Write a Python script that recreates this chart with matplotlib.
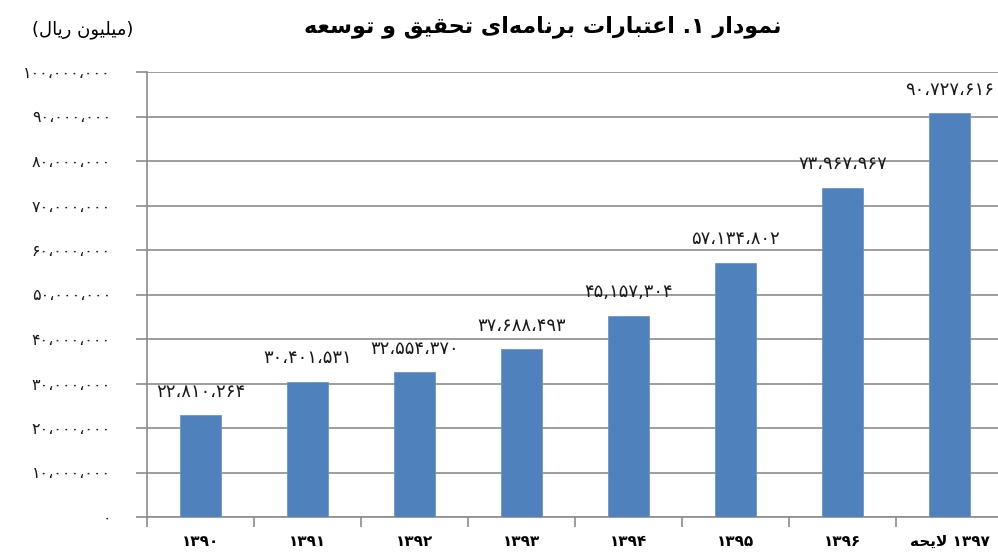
import re
import numpy as np
import matplotlib.pyplot as plt

# Chart data
categories = ['۱۳۹۰', '۱۳۹۱', '۱۳۹۲', '۱۳۹۳', '۱۳۹۴', '۱۳۹۵', '۱۳۹۶',
              'لایحه ۱۳۹۷']
values = [22810264, 30401531, 32554370, 37688493, 45157304, 57134802,
          73967967, 90727616]
value_labels = ['۲۲،۸۱۰،۲۶۴', '۳۰،۴۰۱،۵۳۱', '۳۲،۵۵۴،۳۷۰', '۳۷،۶۸۸،۴۹۳',
                '۴۵,۱۵۷,۳۰۴', '۵۷،۱۳۴،۸۰۲', '۷۳،۹۶۷،۹۶۷', '۹۰،۷۲۷،۶۱۶']
y_ticks = list(range(0, 100000001, 10000000))
title = 'نمودار ۱. اعتبارات برنامه\u200cای تحقیق و توسعه'
unit = '(میلیون ریال)'

# Arabic presentation forms: isolated, final, initial, medial
FORMS = {
    'ا': ('\uFE8D', '\uFE8E', None, None),
    'ب': ('\uFE8F', '\uFE90', '\uFE91', '\uFE92'),
    'ت': ('\uFE95', '\uFE96', '\uFE97', '\uFE98'),
    'ح': ('\uFEA1', '\uFEA2', '\uFEA3', '\uFEA4'),
    'د': ('\uFEA9', '\uFEAA', None, None),
    'ر': ('\uFEAD', '\uFEAE', None, None),
    'س': ('\uFEB1', '\uFEB2', '\uFEB3', '\uFEB4'),
    'ع': ('\uFEC9', '\uFECA', '\uFECB', '\uFECC'),
    'ق': ('\uFED5', '\uFED6', '\uFED7', '\uFED8'),
    'ل': ('\uFEDD', '\uFEDE', '\uFEDF', '\uFEE0'),
    'م': ('\uFEE1', '\uFEE2', '\uFEE3', '\uFEE4'),
    'ن': ('\uFEE5', '\uFEE6', '\uFEE7', '\uFEE8'),
    'ه': ('\uFEE9', '\uFEEA', '\uFEEB', '\uFEEC'),
    'و': ('\uFEED', '\uFEEE', None, None),
    'ی': ('\uFEEF', '\uFEF0', '\uFEF3', '\uFEF4'),
}


def dual(ch):
    return ch in FORMS and FORMS[ch][2] is not None


def shape(text):
    """Join Persian letters with presentation forms (logical order)."""
    out = []
    i = 0
    while i < len(text):
        c = text[i]
        if c == '\u200c':
            i += 1
            continue
        if c not in FORMS:
            out.append(c)
            i += 1
            continue
        prev = text[i - 1] if i > 0 else None
        link_prev = prev is not None and dual(prev)
        if c == 'ل' and i + 1 < len(text) and text[i + 1] == 'ا':
            out.append('\uFEFC' if link_prev else '\uFEFB')
            i += 2
            continue
        nxt = text[i + 1] if i + 1 < len(text) else None
        link_next = dual(c) and nxt in FORMS
        iso, fin, ini, med = FORMS[c]
        if link_prev and link_next:
            out.append(med)
        elif link_prev:
            out.append(fin)
        elif link_next:
            out.append(ini)
        else:
            out.append(iso)
        i += 1
    return ''.join(out)


def rtl(text):
    """Right-to-left visual order, numbers kept left-to-right."""
    tokens = re.findall(r'[۰-۹0-9]+(?:[،,.][۰-۹0-9]+)*|.', shape(text))
    mirror = {'(': ')', ')': '('}
    return ''.join(mirror.get(t, t) for t in reversed(tokens))


def to_fa(s):
    return s.translate(str.maketrans('0123456789', '۰۱۲۳۴۵۶۷۸۹'))


plt.rcParams['font.family'] = ['DejaVu Sans']

fig = plt.figure(figsize=(9.98, 5.6), dpi=100)
ax = fig.add_axes([147 / 998, 1 - 517 / 560, 856 / 998, 445 / 560])

x = np.arange(len(categories))
ax.bar(x, values, width=0.38, color='#4F81BD', edgecolor='#6E95C8',
       linewidth=0.6, zorder=3)

for xi, v, lab in zip(x, values, value_labels):
    ax.annotate(lab, (xi, v), xytext=(0, 17), textcoords='offset points',
                ha='center', va='center', fontsize=13, color='#1A1A1A')

ax.set_xlim(-0.5, len(categories) - 0.5)
ax.set_ylim(0, 100000000)

ax.set_yticks(y_ticks)
ax.set_yticklabels([to_fa(f'{t:,}').replace(',', '،') for t in y_ticks],
                   fontsize=11.5, color='#1A1A1A')
ax.yaxis.grid(True, color='#8C8C8C', linewidth=1.2, zorder=0)
ax.tick_params(axis='y', length=8, width=1.2, color='#8C8C8C', pad=18)

ax.set_xticks(x)
ax.set_xticklabels([' '.join(rtl(w) for w in c.split()) for c in categories],
                   fontsize=11, fontweight='bold')
ax.set_xticks(np.arange(len(categories)) - 0.5, minor=True)
ax.tick_params(axis='x', which='major', length=0, pad=12)
ax.tick_params(axis='x', which='minor', length=7, width=1.2,
               color='#8C8C8C')

for side in ['top', 'right']:
    ax.spines[side].set_visible(False)
for side in ['left', 'bottom']:
    ax.spines[side].set_color('#8C8C8C')
    ax.spines[side].set_linewidth(1.2)

fig.text(543 / 998, 1 - 27 / 560, rtl(title), ha='center', va='center',
         fontsize=16, fontweight='bold')
fig.text(83 / 998, 1 - 30 / 560, rtl(unit), ha='center', va='center',
         fontsize=13)

fig.savefig('out.png', dpi=100)
